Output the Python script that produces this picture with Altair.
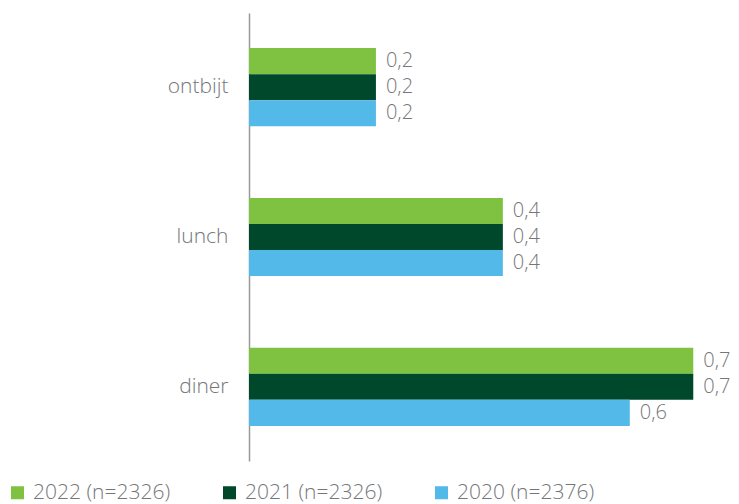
import altair as alt
import pandas as pd

categories = ["ontbijt", "lunch", "diner"]
series = ["2022 (n=2326)", "2021 (n=2326)", "2020 (n=2376)"]
colors = ["#7FC241", "#00482B", "#52B9E9"]
values_2022 = [0.2, 0.4, 0.7]
values_2021 = [0.2, 0.4, 0.7]
values_2020 = [0.2, 0.4, 0.6]

rows = []
for s, vals in zip(series, [values_2022, values_2021, values_2020]):
    for c, v in zip(categories, vals):
        rows.append({"cat": c, "serie": s, "value": v,
                     "label": f"{v:.1f}".replace(".", ",")})
df = pd.DataFrame(rows)

FONT = "Open Sans"
GRAY = "#75767A"

base = alt.Chart(df).encode(
    y=alt.Y("cat:N", sort=categories,
            scale=alt.Scale(paddingInner=0.478, paddingOuter=0.234),
            axis=alt.Axis(title=None, ticks=False, labelPadding=21,
                          labelFontSize=21, labelFont=FONT, labelFontWeight=300,
                          labelColor=GRAY, domainColor="#9A9A9A", domainWidth=1.5,
                          grid=False)),
    yOffset=alt.YOffset("serie:N", sort=series,
                        scale=alt.Scale(paddingInner=0, paddingOuter=0)),
    x=alt.X("value:Q", scale=alt.Scale(domain=[0, 0.75]), axis=None),
)

bars = base.mark_bar().encode(
    color=alt.Color("serie:N", sort=series,
                    scale=alt.Scale(domain=series, range=colors),
                    legend=alt.Legend(title=None, orient="none", direction="horizontal",
                                      legendX=-242, legendY=469,
                                      symbolType="square", symbolSize=169,
                                      symbolStrokeWidth=0, labelFontSize=21,
                                      labelFont=FONT, labelFontWeight=300,
                                      labelColor=GRAY, labelOffset=5,
                                      columnPadding=48, labelLimit=220))
)

text = base.mark_text(align="left", baseline="middle", dx=10, fontSize=20,
                      font=FONT, fontWeight=300, color=GRAY).encode(text="label:N")

chart = (bars + text).properties(
    width=476, height=448,
    autosize=alt.AutoSizeParams(type="none"),
    padding={"left": 241, "top": 5, "right": 5, "bottom": 43},
).configure_view(stroke=None)

chart.save("out.html", embed_options={"renderer": "svg", "actions": False})
